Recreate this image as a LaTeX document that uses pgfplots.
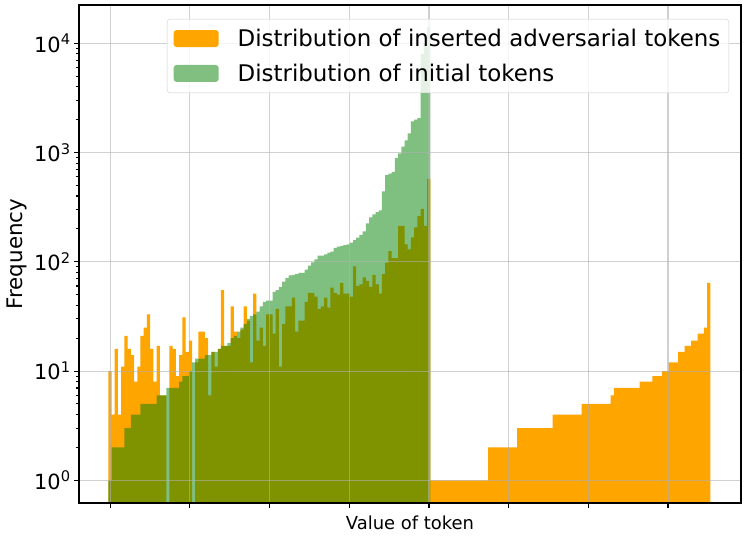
\documentclass[border=0pt]{standalone}
\usepackage{fontspec}
\setmainfont{DejaVu Sans}
\usepackage{pgfplots}
\usepackage{pgfplotstable}
\pgfplotsset{compat=1.18}

\definecolor{mplorange}{HTML}{FFA500}
\definecolor{mplgreen}{HTML}{008000}
\definecolor{gridgray}{HTML}{B0B0B0}
\definecolor{legedge}{HTML}{CCCCCC}

% legend patch: a plain filled box in the given colour
\pgfplotsset{
    histlegend/.style={
        legend image code/.code={\fill[fill=#1, fill opacity=1] (0bp,-8.5bp) rectangle (45bp,8.5bp);}
    },
}

% histogram counts per bin (bin index, count); bins of equal width
\pgfplotstableread{
bin count
0 10
1 4
2 16
3 4
4 11
5 21
6 16
7 14
8 8
9 11
10 21
11 25
12 33
13 16
14 8
15 17
16 6
17 6
18 0
19 17
20 16
21 9
22 14
23 31
24 15
25 19
26 0
27 12
28 23
29 23
30 20
31 6
32 15
33 11
34 16
35 55
36 17
37 17
38 39
39 23
40 20
41 24
42 39
43 29
44 12
45 51
46 19
47 25
48 17
49 33
50 33
51 22
52 37
53 11
54 27
55 39
56 39
57 47
58 23
59 29
60 29
61 43
62 52
63 52
64 48
65 37
66 39
67 47
68 38
69 58
70 52
71 50
72 64
73 51
74 51
75 48
76 91
77 60
78 62
79 72
80 67
81 59
82 76
83 62
84 51
85 77
86 98
87 125
88 108
89 108
90 213
91 213
92 144
93 130
94 167
95 207
96 262
97 305
98 213
99 575
100 1
101 1
102 1
103 1
104 1
105 1
106 1
107 1
108 1
109 1
110 1
111 1
112 1
113 1
114 1
115 1
116 1
117 1
118 2
119 2
120 2
121 2
122 2
123 2
124 2
125 2
126 2
127 3
128 3
129 3
130 3
131 3
132 3
133 3
134 3
135 3
136 3
137 3
138 4
139 4
140 4
141 4
142 4
143 4
144 4
145 4
146 4
147 5
148 5
149 5
150 5
151 5
152 5
153 5
154 5
155 5
156 6
157 7
158 7
159 7
160 7
161 7
162 7
163 7
164 7
165 8
166 8
167 8
168 8
169 9
170 9
171 9
172 10
173 10
174 12
175 12
176 12
177 15
178 15
179 17
180 17
181 19
182 19
183 22
184 22
185 25
186 64
}\adversarial

\pgfplotstableread{
bin count
0 1
1 2
2 2
3 2
4 2
5 3
6 3
7 4
8 4
9 4
10 5
11 5
12 5
13 5
14 5
15 6
16 6
17 6
18 7
19 7
20 7
21 7
22 8
23 9
24 9
25 10
26 12
27 13
28 13
29 13
30 14
31 14
32 15
33 15
34 16
35 17
36 17
37 18
38 20
39 21
40 23
41 25
42 27
43 30
44 32
45 33
46 35
47 39
48 43
49 44
50 44
51 53
52 55
53 59
54 66
55 71
56 75
57 76
58 77
59 79
60 79
61 85
62 92
63 99
64 105
65 114
66 114
67 117
68 121
69 124
70 134
71 138
72 140
73 142
74 144
75 150
76 158
77 166
78 176
79 190
80 225
81 255
82 272
83 285
84 295
85 440
86 620
87 640
88 665
89 890
90 980
91 1130
92 1290
93 1500
94 1930
95 2000
96 2060
97 8000
98 10000
99 14000
}\initial

\begin{document}
\begin{tikzpicture}
\begin{axis}[
    name=ax,
    scale only axis,
    width=662bp, height=498bp,
    xmin=-9.6, xmax=196.0,
    ymode=log, ymin=0.62, ymax=22400,
    log origin=infty,
    xtick={0.09,24.84,49.59,74.34,99.09,123.84,148.59,173.34},
    xticklabels={},
    ytick={1,10,100,1000,10000},
    yticklabels={10\textsuperscript{0},10\textsuperscript{1},10\textsuperscript{2},10\textsuperscript{3},10\textsuperscript{4}},
    tick align=outside,
    tick pos=left,
    major tick length=4.9bp,
    minor tick length=2.8bp,
    every tick/.style={black, line width=1.1bp},
    xmajorgrids=true, ymajorgrids=true,
    major grid style={gridgray, line width=1.1bp, opacity=0.6},
    axis line style={black, line width=1.1bp},
    axis on top,
    tick label style={font=\fontsize{21}{25}\selectfont},
    xlabel={Value of token},
    xlabel style={font=\fontsize{18}{22}\selectfont, yshift=2bp},
    ylabel={Frequency},
    ylabel style={font=\fontsize{21.5}{26}\selectfont},
    legend style={
        at={(0.982,0.972)}, anchor=north east,
        draw=legedge, fill=white, fill opacity=0.8, text opacity=1,
        rounded corners=3bp,
        inner xsep=6.5bp, inner ysep=8bp,
        font=\fontsize{23}{27}\selectfont,
        row sep=12bp,
        /tikz/every odd column/.append style={column sep=17bp},
    },
    legend cell align=left,
]
\addplot[ybar, bar width=1, bar shift=0, fill=mplorange, draw=none, histlegend=mplorange]
    table[x=bin, y=count] {\adversarial};
\addlegendentry{Distribution of inserted adversarial tokens}
\addplot[ybar, bar width=1, bar shift=0, fill=mplgreen, fill opacity=0.5, draw=none, histlegend={mplgreen!50}]
    table[x=bin, y=count] {\initial};
\addlegendentry{Distribution of initial tokens}
\end{axis}
\path ([shift={(-79bp,-34bp)}]ax.south west) rectangle ([shift={(6bp,5bp)}]ax.north east);
\end{tikzpicture}
\end{document}
